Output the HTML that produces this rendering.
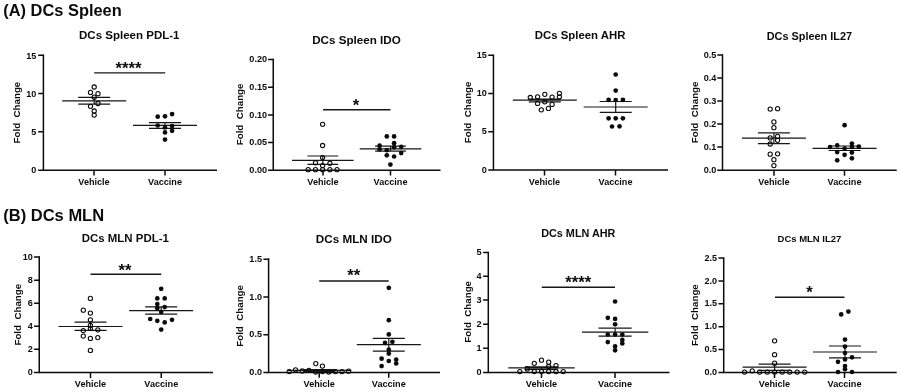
<!DOCTYPE html>
<html lang="en"><head><meta charset="utf-8"><title>DCs Spleen and MLN</title>
<style>html,body{margin:0;padding:0;background:#fff}body{width:900px;height:392px;overflow:hidden}</style>
</head><body>
<svg width="900" height="392" viewBox="0 0 900 392" style="display:block">
<rect width="900" height="392" fill="#fff"/>
<g font-family="'Liberation Sans', sans-serif" font-weight="bold" fill="#0b0b0b">
<text x="3.3" y="16.3" font-size="16.4">(A) DCs Spleen</text>
<text x="3.3" y="221.4" font-size="16.5">(B) DCs MLN</text>
<g><text transform="translate(129.25 38.90) scale(1 1)" font-size="11.52" text-anchor="middle">DCs Spleen PDL-1</text><path d="M43.4 54.45V170.15H217" fill="none" stroke="#0b0b0b" stroke-width="1.5"/><path d="M38.199999999999996 55.2H43.4M38.199999999999996 93.5H43.4M38.199999999999996 131.8H43.4M38.199999999999996 170.15H43.4M94 170.15V175.55M165 170.15V175.55" fill="none" stroke="#0b0b0b" stroke-width="1.5"/><text x="36.40" y="58.50" font-size="9.1" text-anchor="end">15</text><text x="36.40" y="96.80" font-size="9.1" text-anchor="end">10</text><text x="36.40" y="135.10" font-size="9.1" text-anchor="end">5</text><text x="36.40" y="173.45" font-size="9.1" text-anchor="end">0</text><text x="94" y="184.85" font-size="9.1" text-anchor="middle">Vehicle</text><text x="165" y="184.85" font-size="9.1" text-anchor="middle">Vaccine</text><text transform="translate(20.299999999999997 112.60000000000001) rotate(-90)" font-size="9.75" word-spacing="2.7" text-anchor="middle">Fold Change</text><path d="M94.2 72.8H165.2" stroke="#161616" stroke-width="1.3" fill="none"/><text x="128.5" y="73.90" font-size="16.7" text-anchor="middle">****</text><path d="M62.20 100.8H126.20M78.20 97.3H110.20M78.20 104.2H110.20M94.2 97.3V104.2M133.00 125.4H197.00M149.00 122.6H181.00M149.00 128.4H181.00M165 122.6V128.4" stroke="#161616" stroke-width="1.2" fill="none"/><circle cx="94.2" cy="87.0" r="2.12" fill="#fff" fill-opacity="0" stroke="#0b0b0b" stroke-width="1.08"/><circle cx="90.5" cy="92.4" r="2.12" fill="#fff" fill-opacity="0" stroke="#0b0b0b" stroke-width="1.08"/><circle cx="98" cy="93.7" r="2.12" fill="#fff" fill-opacity="0" stroke="#0b0b0b" stroke-width="1.08"/><circle cx="94.2" cy="97.2" r="2.12" fill="#fff" fill-opacity="0" stroke="#0b0b0b" stroke-width="1.08"/><circle cx="98" cy="103.5" r="2.12" fill="#fff" fill-opacity="0" stroke="#0b0b0b" stroke-width="1.08"/><circle cx="90.5" cy="106.3" r="2.12" fill="#fff" fill-opacity="0" stroke="#0b0b0b" stroke-width="1.08"/><circle cx="94.2" cy="111" r="2.12" fill="#fff" fill-opacity="0" stroke="#0b0b0b" stroke-width="1.08"/><circle cx="94.2" cy="115.1" r="2.12" fill="#fff" fill-opacity="0" stroke="#0b0b0b" stroke-width="1.08"/><circle cx="172.1" cy="114.1" r="2.35"/><circle cx="157.7" cy="116.7" r="2.35"/><circle cx="165" cy="116.3" r="2.35"/><circle cx="157.7" cy="125.5" r="2.35"/><circle cx="172.1" cy="126.1" r="2.35"/><circle cx="165" cy="127.4" r="2.35"/><circle cx="172.1" cy="130.8" r="2.35"/><circle cx="165" cy="132.4" r="2.35"/><circle cx="165" cy="139.6" r="2.35"/></g>
<g><text transform="translate(356.5 43.54) scale(1 1)" font-size="11.65" text-anchor="middle">DCs Spleen IDO</text><path d="M273.25 58.75V170.2H440.5" fill="none" stroke="#0b0b0b" stroke-width="1.5"/><path d="M268.05 59.5H273.25M268.05 87.25H273.25M268.05 115H273.25M268.05 142.5H273.25M268.05 170.2H273.25M323 170.2V175.6M390.5 170.2V175.6" fill="none" stroke="#0b0b0b" stroke-width="1.5"/><text x="267.05" y="62.20" font-size="9.1" text-anchor="end">0.20</text><text x="267.05" y="89.95" font-size="9.1" text-anchor="end">0.15</text><text x="267.05" y="117.70" font-size="9.1" text-anchor="end">0.10</text><text x="267.05" y="145.20" font-size="9.1" text-anchor="end">0.05</text><text x="267.05" y="172.90" font-size="9.1" text-anchor="end">0.00</text><text x="323" y="184.90" font-size="9.1" text-anchor="middle">Vehicle</text><text x="390.5" y="184.90" font-size="9.1" text-anchor="middle">Vaccine</text><text transform="translate(243.0 114.4) rotate(-90)" font-size="9.75" word-spacing="2.7" text-anchor="middle">Fold Change</text><path d="M323 109.75H390.5" stroke="#161616" stroke-width="1.3" fill="none"/><text x="356" y="110.80" font-size="16.7" text-anchor="middle">*</text><path d="M292.00 160.3H353.60M307.40 156H338.20M307.40 164.4H338.20M322.8 156V164.4M359.70 148.8H421.30M375.10 146.2H405.90M375.10 151.2H405.90M390.5 146.2V151.2" stroke="#161616" stroke-width="1.2" fill="none"/><circle cx="322.6" cy="124.3" r="2.12" fill="#fff" fill-opacity="0" stroke="#0b0b0b" stroke-width="1.08"/><circle cx="322.6" cy="145.5" r="2.12" fill="#fff" fill-opacity="0" stroke="#0b0b0b" stroke-width="1.08"/><circle cx="322.6" cy="157.6" r="2.12" fill="#fff" fill-opacity="0" stroke="#0b0b0b" stroke-width="1.08"/><circle cx="315.5" cy="162.8" r="2.12" fill="#fff" fill-opacity="0" stroke="#0b0b0b" stroke-width="1.08"/><circle cx="329.9" cy="163.3" r="2.12" fill="#fff" fill-opacity="0" stroke="#0b0b0b" stroke-width="1.08"/><circle cx="322.6" cy="165.6" r="2.12" fill="#fff" fill-opacity="0" stroke="#0b0b0b" stroke-width="1.08"/><circle cx="308.2" cy="169.7" r="2.12" fill="#fff" fill-opacity="0" stroke="#0b0b0b" stroke-width="1.08"/><circle cx="315.5" cy="169.7" r="2.12" fill="#fff" fill-opacity="0" stroke="#0b0b0b" stroke-width="1.08"/><circle cx="322.6" cy="169.7" r="2.12" fill="#fff" fill-opacity="0" stroke="#0b0b0b" stroke-width="1.08"/><circle cx="329.9" cy="169.7" r="2.12" fill="#fff" fill-opacity="0" stroke="#0b0b0b" stroke-width="1.08"/><circle cx="337" cy="169.7" r="2.12" fill="#fff" fill-opacity="0" stroke="#0b0b0b" stroke-width="1.08"/><circle cx="386.8" cy="136.4" r="2.35"/><circle cx="394.1" cy="136.4" r="2.35"/><circle cx="394.1" cy="143.2" r="2.35"/><circle cx="379.6" cy="145.7" r="2.35"/><circle cx="401.2" cy="146.8" r="2.35"/><circle cx="394.1" cy="147.3" r="2.35"/><circle cx="379.6" cy="149.3" r="2.35"/><circle cx="386.8" cy="150.2" r="2.35"/><circle cx="401.2" cy="153.1" r="2.35"/><circle cx="386.8" cy="155.3" r="2.35"/><circle cx="394.1" cy="156.5" r="2.35"/><circle cx="390.4" cy="164.6" r="2.35"/></g>
<g><text transform="translate(580.1 38.80) scale(1 1)" font-size="11.38" text-anchor="middle">DCs Spleen AHR</text><path d="M493.45 54.45V170.1H668" fill="none" stroke="#0b0b0b" stroke-width="1.5"/><path d="M488.25 55.2H493.45M488.25 93.5H493.45M488.25 131.8H493.45M488.25 170.1H493.45M544.5 170.1V175.5M615.5 170.1V175.5" fill="none" stroke="#0b0b0b" stroke-width="1.5"/><text x="486.75" y="57.80" font-size="9.1" text-anchor="end">15</text><text x="486.75" y="96.10" font-size="9.1" text-anchor="end">10</text><text x="486.75" y="134.40" font-size="9.1" text-anchor="end">5</text><text x="486.75" y="172.70" font-size="9.1" text-anchor="end">0</text><text x="544.5" y="184.80" font-size="9.1" text-anchor="middle">Vehicle</text><text x="615.5" y="184.80" font-size="9.1" text-anchor="middle">Vaccine</text><text transform="translate(470.7 112.4) rotate(-90)" font-size="9.75" word-spacing="2.7" text-anchor="middle">Fold Change</text><path d="M512.80 100.1H576.80M528.80 99.1H560.80M528.80 101.8H560.80M544.8 99.1V101.8M583.70 107H647.70M599.70 101.5H631.70M599.70 112.4H631.70M615.7 101.5V112.4" stroke="#161616" stroke-width="1.2" fill="none"/><circle cx="559.4" cy="93.3" r="2.12" fill="#fff" fill-opacity="0" stroke="#0b0b0b" stroke-width="1.08"/><circle cx="544.8" cy="94.3" r="2.12" fill="#fff" fill-opacity="0" stroke="#0b0b0b" stroke-width="1.08"/><circle cx="559.4" cy="96.8" r="2.12" fill="#fff" fill-opacity="0" stroke="#0b0b0b" stroke-width="1.08"/><circle cx="530.3" cy="97.5" r="2.12" fill="#fff" fill-opacity="0" stroke="#0b0b0b" stroke-width="1.08"/><circle cx="537.6" cy="96.8" r="2.12" fill="#fff" fill-opacity="0" stroke="#0b0b0b" stroke-width="1.08"/><circle cx="552.1" cy="97.1" r="2.12" fill="#fff" fill-opacity="0" stroke="#0b0b0b" stroke-width="1.08"/><circle cx="544.8" cy="101.8" r="2.12" fill="#fff" fill-opacity="0" stroke="#0b0b0b" stroke-width="1.08"/><circle cx="537.6" cy="103.4" r="2.12" fill="#fff" fill-opacity="0" stroke="#0b0b0b" stroke-width="1.08"/><circle cx="552.1" cy="104.4" r="2.12" fill="#fff" fill-opacity="0" stroke="#0b0b0b" stroke-width="1.08"/><circle cx="548.4" cy="108.4" r="2.12" fill="#fff" fill-opacity="0" stroke="#0b0b0b" stroke-width="1.08"/><circle cx="541.3" cy="109.8" r="2.12" fill="#fff" fill-opacity="0" stroke="#0b0b0b" stroke-width="1.08"/><circle cx="615.7" cy="74.5" r="2.35"/><circle cx="615.7" cy="90.6" r="2.35"/><circle cx="608.6" cy="99.8" r="2.35"/><circle cx="615.7" cy="100.0" r="2.35"/><circle cx="622.9" cy="99.8" r="2.35"/><circle cx="608.6" cy="118.3" r="2.35"/><circle cx="615.7" cy="118.3" r="2.35"/><circle cx="622.9" cy="118.3" r="2.35"/><circle cx="612" cy="126.5" r="2.35"/><circle cx="619.5" cy="126.3" r="2.35"/></g>
<g><text transform="translate(809.4 39.62) scale(1 1)" font-size="10.9" text-anchor="middle">DCs Spleen IL27</text><path d="M722.5 54.25V170.25H896.7" fill="none" stroke="#0b0b0b" stroke-width="1.5"/><path d="M717.3 55H722.5M717.3 78H722.5M717.3 101H722.5M717.3 124H722.5M717.3 147.1H722.5M717.3 170.25H722.5M774 170.25V175.65M844.5 170.25V175.65" fill="none" stroke="#0b0b0b" stroke-width="1.5"/><text x="716.30" y="58.05" font-size="9.1" text-anchor="end">0.5</text><text x="716.30" y="81.05" font-size="9.1" text-anchor="end">0.4</text><text x="716.30" y="104.05" font-size="9.1" text-anchor="end">0.3</text><text x="716.30" y="127.05" font-size="9.1" text-anchor="end">0.2</text><text x="716.30" y="150.15" font-size="9.1" text-anchor="end">0.1</text><text x="716.30" y="173.30" font-size="9.1" text-anchor="end">0.0</text><text x="774" y="184.95" font-size="9.1" text-anchor="middle">Vehicle</text><text x="844.5" y="184.95" font-size="9.1" text-anchor="middle">Vaccine</text><text transform="translate(697.8 112.4) rotate(-90)" font-size="9.75" word-spacing="2.7" text-anchor="middle">Fold Change</text><path d="M741.90 138.1H805.90M757.90 132.8H789.90M757.90 143.6H789.90M773.9 132.8V143.6M812.60 148.3H876.60M828.60 146H860.60M828.60 150.5H860.60M844.6 146V150.5" stroke="#161616" stroke-width="1.2" fill="none"/><circle cx="770.2" cy="109.1" r="2.12" fill="#fff" fill-opacity="0" stroke="#0b0b0b" stroke-width="1.08"/><circle cx="777.6" cy="108.7" r="2.12" fill="#fff" fill-opacity="0" stroke="#0b0b0b" stroke-width="1.08"/><circle cx="773.9" cy="121.9" r="2.12" fill="#fff" fill-opacity="0" stroke="#0b0b0b" stroke-width="1.08"/><circle cx="773.9" cy="127.7" r="2.12" fill="#fff" fill-opacity="0" stroke="#0b0b0b" stroke-width="1.08"/><circle cx="777.6" cy="136.4" r="2.12" fill="#fff" fill-opacity="0" stroke="#0b0b0b" stroke-width="1.08"/><circle cx="770.2" cy="137.9" r="2.12" fill="#fff" fill-opacity="0" stroke="#0b0b0b" stroke-width="1.08"/><circle cx="777.6" cy="140.3" r="2.12" fill="#fff" fill-opacity="0" stroke="#0b0b0b" stroke-width="1.08"/><circle cx="770.2" cy="144" r="2.12" fill="#fff" fill-opacity="0" stroke="#0b0b0b" stroke-width="1.08"/><circle cx="770.2" cy="154.2" r="2.12" fill="#fff" fill-opacity="0" stroke="#0b0b0b" stroke-width="1.08"/><circle cx="777.6" cy="153.8" r="2.12" fill="#fff" fill-opacity="0" stroke="#0b0b0b" stroke-width="1.08"/><circle cx="773.9" cy="159.7" r="2.12" fill="#fff" fill-opacity="0" stroke="#0b0b0b" stroke-width="1.08"/><circle cx="773.9" cy="165.6" r="2.12" fill="#fff" fill-opacity="0" stroke="#0b0b0b" stroke-width="1.08"/><circle cx="844.6" cy="125.2" r="2.35"/><circle cx="851.9" cy="143.6" r="2.35"/><circle cx="837.2" cy="145.4" r="2.35"/><circle cx="830.1" cy="147" r="2.35"/><circle cx="858.8" cy="146.6" r="2.35"/><circle cx="851.9" cy="147" r="2.35"/><circle cx="844.6" cy="148.5" r="2.35"/><circle cx="837.2" cy="152.1" r="2.35"/><circle cx="851.9" cy="152.6" r="2.35"/><circle cx="844.6" cy="154.8" r="2.35"/><circle cx="851.9" cy="158.3" r="2.35"/><circle cx="837.2" cy="160.3" r="2.35"/></g>
<g><text transform="translate(125.3 241.72) scale(1 1)" font-size="11.45" text-anchor="middle">DCs MLN PDL-1</text><path d="M39.25 256.25V372.5H213" fill="none" stroke="#0b0b0b" stroke-width="1.5"/><path d="M34.05 257H39.25M34.05 280.25H39.25M34.05 303.25H39.25M34.05 326.25H39.25M34.05 349.25H39.25M34.05 372.5H39.25M90.5 372.5V377.9M161.25 372.5V377.9" fill="none" stroke="#0b0b0b" stroke-width="1.5"/><text x="32.75" y="259.80" font-size="9.1" text-anchor="end">10</text><text x="32.75" y="283.05" font-size="9.1" text-anchor="end">8</text><text x="32.75" y="306.05" font-size="9.1" text-anchor="end">6</text><text x="32.75" y="329.05" font-size="9.1" text-anchor="end">4</text><text x="32.75" y="352.05" font-size="9.1" text-anchor="end">2</text><text x="32.75" y="375.30" font-size="9.1" text-anchor="end">0</text><text x="90.5" y="387.20" font-size="9.1" text-anchor="middle">Vehicle</text><text x="161.25" y="387.20" font-size="9.1" text-anchor="middle">Vaccine</text><text transform="translate(21.099999999999998 314.7) rotate(-90)" font-size="9.75" word-spacing="2.7" text-anchor="middle">Fold Change</text><path d="M90.5 274.25H161.25" stroke="#161616" stroke-width="1.3" fill="none"/><text x="125" y="276.05" font-size="16.7" text-anchor="middle">**</text><path d="M58.50 326.5H122.50M74.50 322.2H106.50M74.50 330.4H106.50M90.5 322.2V330.4M129.20 310.6H193.20M145.20 306.9H177.20M145.20 314.1H177.20M161.2 306.9V314.1" stroke="#161616" stroke-width="1.2" fill="none"/><circle cx="90.4" cy="298.4" r="2.12" fill="#fff" fill-opacity="0" stroke="#0b0b0b" stroke-width="1.08"/><circle cx="83.3" cy="310.2" r="2.12" fill="#fff" fill-opacity="0" stroke="#0b0b0b" stroke-width="1.08"/><circle cx="90.4" cy="313.1" r="2.12" fill="#fff" fill-opacity="0" stroke="#0b0b0b" stroke-width="1.08"/><circle cx="90.4" cy="319.8" r="2.12" fill="#fff" fill-opacity="0" stroke="#0b0b0b" stroke-width="1.08"/><circle cx="90.4" cy="325.3" r="2.12" fill="#fff" fill-opacity="0" stroke="#0b0b0b" stroke-width="1.08"/><circle cx="90.4" cy="328.6" r="2.12" fill="#fff" fill-opacity="0" stroke="#0b0b0b" stroke-width="1.08"/><circle cx="83.3" cy="330.6" r="2.12" fill="#fff" fill-opacity="0" stroke="#0b0b0b" stroke-width="1.08"/><circle cx="97.8" cy="329.8" r="2.12" fill="#fff" fill-opacity="0" stroke="#0b0b0b" stroke-width="1.08"/><circle cx="83.3" cy="336.1" r="2.12" fill="#fff" fill-opacity="0" stroke="#0b0b0b" stroke-width="1.08"/><circle cx="90.4" cy="338.4" r="2.12" fill="#fff" fill-opacity="0" stroke="#0b0b0b" stroke-width="1.08"/><circle cx="97.8" cy="337.6" r="2.12" fill="#fff" fill-opacity="0" stroke="#0b0b0b" stroke-width="1.08"/><circle cx="90.4" cy="350.4" r="2.12" fill="#fff" fill-opacity="0" stroke="#0b0b0b" stroke-width="1.08"/><circle cx="161.2" cy="288.8" r="2.35"/><circle cx="157.3" cy="298.4" r="2.35"/><circle cx="164.7" cy="298.4" r="2.35"/><circle cx="157.3" cy="304.1" r="2.35"/><circle cx="164.7" cy="307.1" r="2.35"/><circle cx="157.3" cy="308.2" r="2.35"/><circle cx="161.2" cy="312" r="2.35"/><circle cx="150.2" cy="319" r="2.35"/><circle cx="172" cy="319.8" r="2.35"/><circle cx="157.3" cy="320.8" r="2.35"/><circle cx="164.7" cy="322.4" r="2.35"/><circle cx="161.2" cy="329.6" r="2.35"/></g>
<g><text transform="translate(353.75 243.46) scale(1 1)" font-size="11.7" text-anchor="middle">DCs MLN IDO</text><path d="M268.6 258.25V372.4H440" fill="none" stroke="#0b0b0b" stroke-width="1.5"/><path d="M263.40000000000003 259.3H268.6M263.40000000000003 297.0H268.6M263.40000000000003 334.7H268.6M263.40000000000003 372.4H268.6M319.25 372.4V377.79999999999995M388.75 372.4V377.79999999999995" fill="none" stroke="#0b0b0b" stroke-width="1.5"/><text x="262.00" y="261.90" font-size="9.1" text-anchor="end">1.5</text><text x="262.00" y="299.60" font-size="9.1" text-anchor="end">1.0</text><text x="262.00" y="337.30" font-size="9.1" text-anchor="end">0.5</text><text x="262.00" y="375.00" font-size="9.1" text-anchor="end">0.0</text><text x="319.25" y="387.10" font-size="9.1" text-anchor="middle">Vehicle</text><text x="388.75" y="387.10" font-size="9.1" text-anchor="middle">Vaccine</text><text transform="translate(242.9 315.9) rotate(-90)" font-size="9.75" word-spacing="2.7" text-anchor="middle">Fold Change</text><path d="M319.25 281H388.75" stroke="#161616" stroke-width="1.3" fill="none"/><text x="353.75" y="280.55" font-size="16.7" text-anchor="middle">**</text><path d="M287.25 370.4H351.25M303.25 369.6H335.25M303.25 371.3H335.25M319.25 369.6V371.3M356.80 344.7H420.80M372.80 338.4H404.80M372.80 351.2H404.80M388.8 338.4V351.2" stroke="#161616" stroke-width="1.2" fill="none"/><circle cx="315.8" cy="363.6" r="2.12" fill="#fff" fill-opacity="0" stroke="#0b0b0b" stroke-width="1.08"/><circle cx="322.4" cy="366.1" r="2.12" fill="#fff" fill-opacity="0" stroke="#0b0b0b" stroke-width="1.08"/><circle cx="289.2" cy="371.6" r="2.12" fill="#fff" fill-opacity="0" stroke="#0b0b0b" stroke-width="1.08"/><circle cx="295.6" cy="369.8" r="2.12" fill="#fff" fill-opacity="0" stroke="#0b0b0b" stroke-width="1.08"/><circle cx="302.2" cy="371" r="2.12" fill="#fff" fill-opacity="0" stroke="#0b0b0b" stroke-width="1.08"/><circle cx="308.9" cy="370.3" r="2.12" fill="#fff" fill-opacity="0" stroke="#0b0b0b" stroke-width="1.08"/><circle cx="315.8" cy="372" r="2.12" fill="#fff" fill-opacity="0" stroke="#0b0b0b" stroke-width="1.08"/><circle cx="322.4" cy="371.5" r="2.12" fill="#fff" fill-opacity="0" stroke="#0b0b0b" stroke-width="1.08"/><circle cx="328.8" cy="372" r="2.12" fill="#fff" fill-opacity="0" stroke="#0b0b0b" stroke-width="1.08"/><circle cx="335.4" cy="371.6" r="2.12" fill="#fff" fill-opacity="0" stroke="#0b0b0b" stroke-width="1.08"/><circle cx="342" cy="371.6" r="2.12" fill="#fff" fill-opacity="0" stroke="#0b0b0b" stroke-width="1.08"/><circle cx="348.6" cy="371.2" r="2.12" fill="#fff" fill-opacity="0" stroke="#0b0b0b" stroke-width="1.08"/><circle cx="388.8" cy="287.8" r="2.35"/><circle cx="388.8" cy="320.2" r="2.35"/><circle cx="388.8" cy="334.4" r="2.35"/><circle cx="385" cy="342.9" r="2.35"/><circle cx="392.4" cy="341.8" r="2.35"/><circle cx="388.8" cy="349.7" r="2.35"/><circle cx="388.8" cy="353.6" r="2.35"/><circle cx="381.6" cy="358.7" r="2.35"/><circle cx="388.8" cy="361" r="2.35"/><circle cx="396.2" cy="359.7" r="2.35"/><circle cx="396.2" cy="363.5" r="2.35"/><circle cx="381.6" cy="366.1" r="2.35"/></g>
<g><text transform="translate(578.3 237.11) scale(1 1)" font-size="10.85" text-anchor="middle">DCs MLN AHR</text><path d="M488.3 251.75V372.5H669.5" fill="none" stroke="#0b0b0b" stroke-width="1.5"/><path d="M483.1 252.5H488.3M483.1 276.25H488.3M483.1 300H488.3M483.1 324.25H488.3M483.1 348.25H488.3M483.1 372.5H488.3M541.5 372.5V377.9M615 372.5V377.9" fill="none" stroke="#0b0b0b" stroke-width="1.5"/><text x="481.50" y="255.10" font-size="9.1" text-anchor="end">5</text><text x="481.50" y="278.85" font-size="9.1" text-anchor="end">4</text><text x="481.50" y="302.60" font-size="9.1" text-anchor="end">3</text><text x="481.50" y="326.85" font-size="9.1" text-anchor="end">2</text><text x="481.50" y="350.85" font-size="9.1" text-anchor="end">1</text><text x="481.50" y="375.10" font-size="9.1" text-anchor="end">0</text><text x="541.5" y="387.20" font-size="9.1" text-anchor="middle">Vehicle</text><text x="615" y="387.20" font-size="9.1" text-anchor="middle">Vaccine</text><text transform="translate(470.59999999999997 311.84999999999997) rotate(-90)" font-size="9.75" word-spacing="2.7" text-anchor="middle">Fold Change</text><path d="M541.75 287.25H615" stroke="#161616" stroke-width="1.3" fill="none"/><text x="578.25" y="288.05" font-size="16.7" text-anchor="middle">****</text><path d="M508.30 367.9H574.70M524.90 366.9H558.10M524.90 369.4H558.10M541.5 366.9V369.4M581.90 332.1H648.30M598.50 328.1H631.70M598.50 336.2H631.70M615.1 328.1V336.2" stroke="#161616" stroke-width="1.2" fill="none"/><circle cx="541.5" cy="360.2" r="2.12" fill="#fff" fill-opacity="0" stroke="#0b0b0b" stroke-width="1.08"/><circle cx="534.3" cy="363.3" r="2.12" fill="#fff" fill-opacity="0" stroke="#0b0b0b" stroke-width="1.08"/><circle cx="548.7" cy="362.2" r="2.12" fill="#fff" fill-opacity="0" stroke="#0b0b0b" stroke-width="1.08"/><circle cx="556" cy="365.6" r="2.12" fill="#fff" fill-opacity="0" stroke="#0b0b0b" stroke-width="1.08"/><circle cx="527.2" cy="369" r="2.12" fill="#fff" fill-opacity="0" stroke="#0b0b0b" stroke-width="1.08"/><circle cx="548.7" cy="366.5" r="2.12" fill="#fff" fill-opacity="0" stroke="#0b0b0b" stroke-width="1.08"/><circle cx="519.8" cy="371.6" r="2.12" fill="#fff" fill-opacity="0" stroke="#0b0b0b" stroke-width="1.08"/><circle cx="534.3" cy="371.6" r="2.12" fill="#fff" fill-opacity="0" stroke="#0b0b0b" stroke-width="1.08"/><circle cx="541.5" cy="371.6" r="2.12" fill="#fff" fill-opacity="0" stroke="#0b0b0b" stroke-width="1.08"/><circle cx="548.7" cy="371.6" r="2.12" fill="#fff" fill-opacity="0" stroke="#0b0b0b" stroke-width="1.08"/><circle cx="556" cy="371.6" r="2.12" fill="#fff" fill-opacity="0" stroke="#0b0b0b" stroke-width="1.08"/><circle cx="563.2" cy="371.6" r="2.12" fill="#fff" fill-opacity="0" stroke="#0b0b0b" stroke-width="1.08"/><circle cx="615.1" cy="301.5" r="2.35"/><circle cx="607.8" cy="317.8" r="2.35"/><circle cx="615.1" cy="318.9" r="2.35"/><circle cx="615.1" cy="324.3" r="2.35"/><circle cx="607.8" cy="334.5" r="2.35"/><circle cx="615.1" cy="334.5" r="2.35"/><circle cx="622.3" cy="334.5" r="2.35"/><circle cx="622.3" cy="339.9" r="2.35"/><circle cx="607.8" cy="342.1" r="2.35"/><circle cx="622.3" cy="343.4" r="2.35"/><circle cx="615.1" cy="346.4" r="2.35"/><circle cx="615.1" cy="350.3" r="2.35"/></g>
<g><text transform="translate(809.4 242.20) scale(0.965 1)" font-size="9.85" text-anchor="middle">DCs MLN IL27</text><path d="M723.7 257.25V372.5H896.7" fill="none" stroke="#0b0b0b" stroke-width="1.5"/><path d="M718.5 258H723.7M718.5 281H723.7M718.5 303.75H723.7M718.5 326.75H723.7M718.5 349.5H723.7M718.5 372.5H723.7M774.5 372.5V377.9M844.5 372.5V377.9" fill="none" stroke="#0b0b0b" stroke-width="1.5"/><text x="717.20" y="260.70" font-size="9.1" text-anchor="end">2.5</text><text x="717.20" y="283.70" font-size="9.1" text-anchor="end">2.0</text><text x="717.20" y="306.45" font-size="9.1" text-anchor="end">1.5</text><text x="717.20" y="329.45" font-size="9.1" text-anchor="end">1.0</text><text x="717.20" y="352.20" font-size="9.1" text-anchor="end">0.5</text><text x="717.20" y="375.20" font-size="9.1" text-anchor="end">0.0</text><text x="774.5" y="387.20" font-size="9.1" text-anchor="middle">Vehicle</text><text x="844.5" y="387.20" font-size="9.1" text-anchor="middle">Vaccine</text><text transform="translate(698.1 315.09999999999997) rotate(-90)" font-size="9.75" word-spacing="2.7" text-anchor="middle">Fold Change</text><path d="M775 297.25H844.5" stroke="#161616" stroke-width="1.3" fill="none"/><text x="809.5" y="298.05" font-size="16.7" text-anchor="middle">*</text><path d="M742.60 367.2H806.60M758.60 364.1H790.60M758.60 370.4H790.60M774.6 364.1V370.4M813.00 352H877.00M829.00 346H861.00M829.00 357.8H861.00M845 346V357.8" stroke="#161616" stroke-width="1.2" fill="none"/><circle cx="774.6" cy="340.8" r="2.12" fill="#fff" fill-opacity="0" stroke="#0b0b0b" stroke-width="1.08"/><circle cx="774.6" cy="354.7" r="2.12" fill="#fff" fill-opacity="0" stroke="#0b0b0b" stroke-width="1.08"/><circle cx="774.6" cy="363.2" r="2.12" fill="#fff" fill-opacity="0" stroke="#0b0b0b" stroke-width="1.08"/><circle cx="744.6" cy="372.1" r="2.12" fill="#fff" fill-opacity="0" stroke="#0b0b0b" stroke-width="1.08"/><circle cx="752.2" cy="370.8" r="2.12" fill="#fff" fill-opacity="0" stroke="#0b0b0b" stroke-width="1.08"/><circle cx="759.6" cy="372.1" r="2.12" fill="#fff" fill-opacity="0" stroke="#0b0b0b" stroke-width="1.08"/><circle cx="767.2" cy="372.1" r="2.12" fill="#fff" fill-opacity="0" stroke="#0b0b0b" stroke-width="1.08"/><circle cx="774.6" cy="372.1" r="2.12" fill="#fff" fill-opacity="0" stroke="#0b0b0b" stroke-width="1.08"/><circle cx="782.2" cy="372.1" r="2.12" fill="#fff" fill-opacity="0" stroke="#0b0b0b" stroke-width="1.08"/><circle cx="789.7" cy="372.1" r="2.12" fill="#fff" fill-opacity="0" stroke="#0b0b0b" stroke-width="1.08"/><circle cx="797.2" cy="372.1" r="2.12" fill="#fff" fill-opacity="0" stroke="#0b0b0b" stroke-width="1.08"/><circle cx="804.7" cy="372.1" r="2.12" fill="#fff" fill-opacity="0" stroke="#0b0b0b" stroke-width="1.08"/><circle cx="848.4" cy="311.6" r="2.35"/><circle cx="841.2" cy="314.4" r="2.35"/><circle cx="845" cy="339.6" r="2.35"/><circle cx="845" cy="346.6" r="2.35"/><circle cx="845" cy="353" r="2.35"/><circle cx="852" cy="357.3" r="2.35"/><circle cx="845" cy="359.5" r="2.35"/><circle cx="838" cy="361.8" r="2.35"/><circle cx="845" cy="366" r="2.35"/><circle cx="845" cy="369.2" r="2.35"/><circle cx="838" cy="372" r="2.35"/><circle cx="852" cy="372" r="2.35"/></g>
</g></svg>
</body></html>
